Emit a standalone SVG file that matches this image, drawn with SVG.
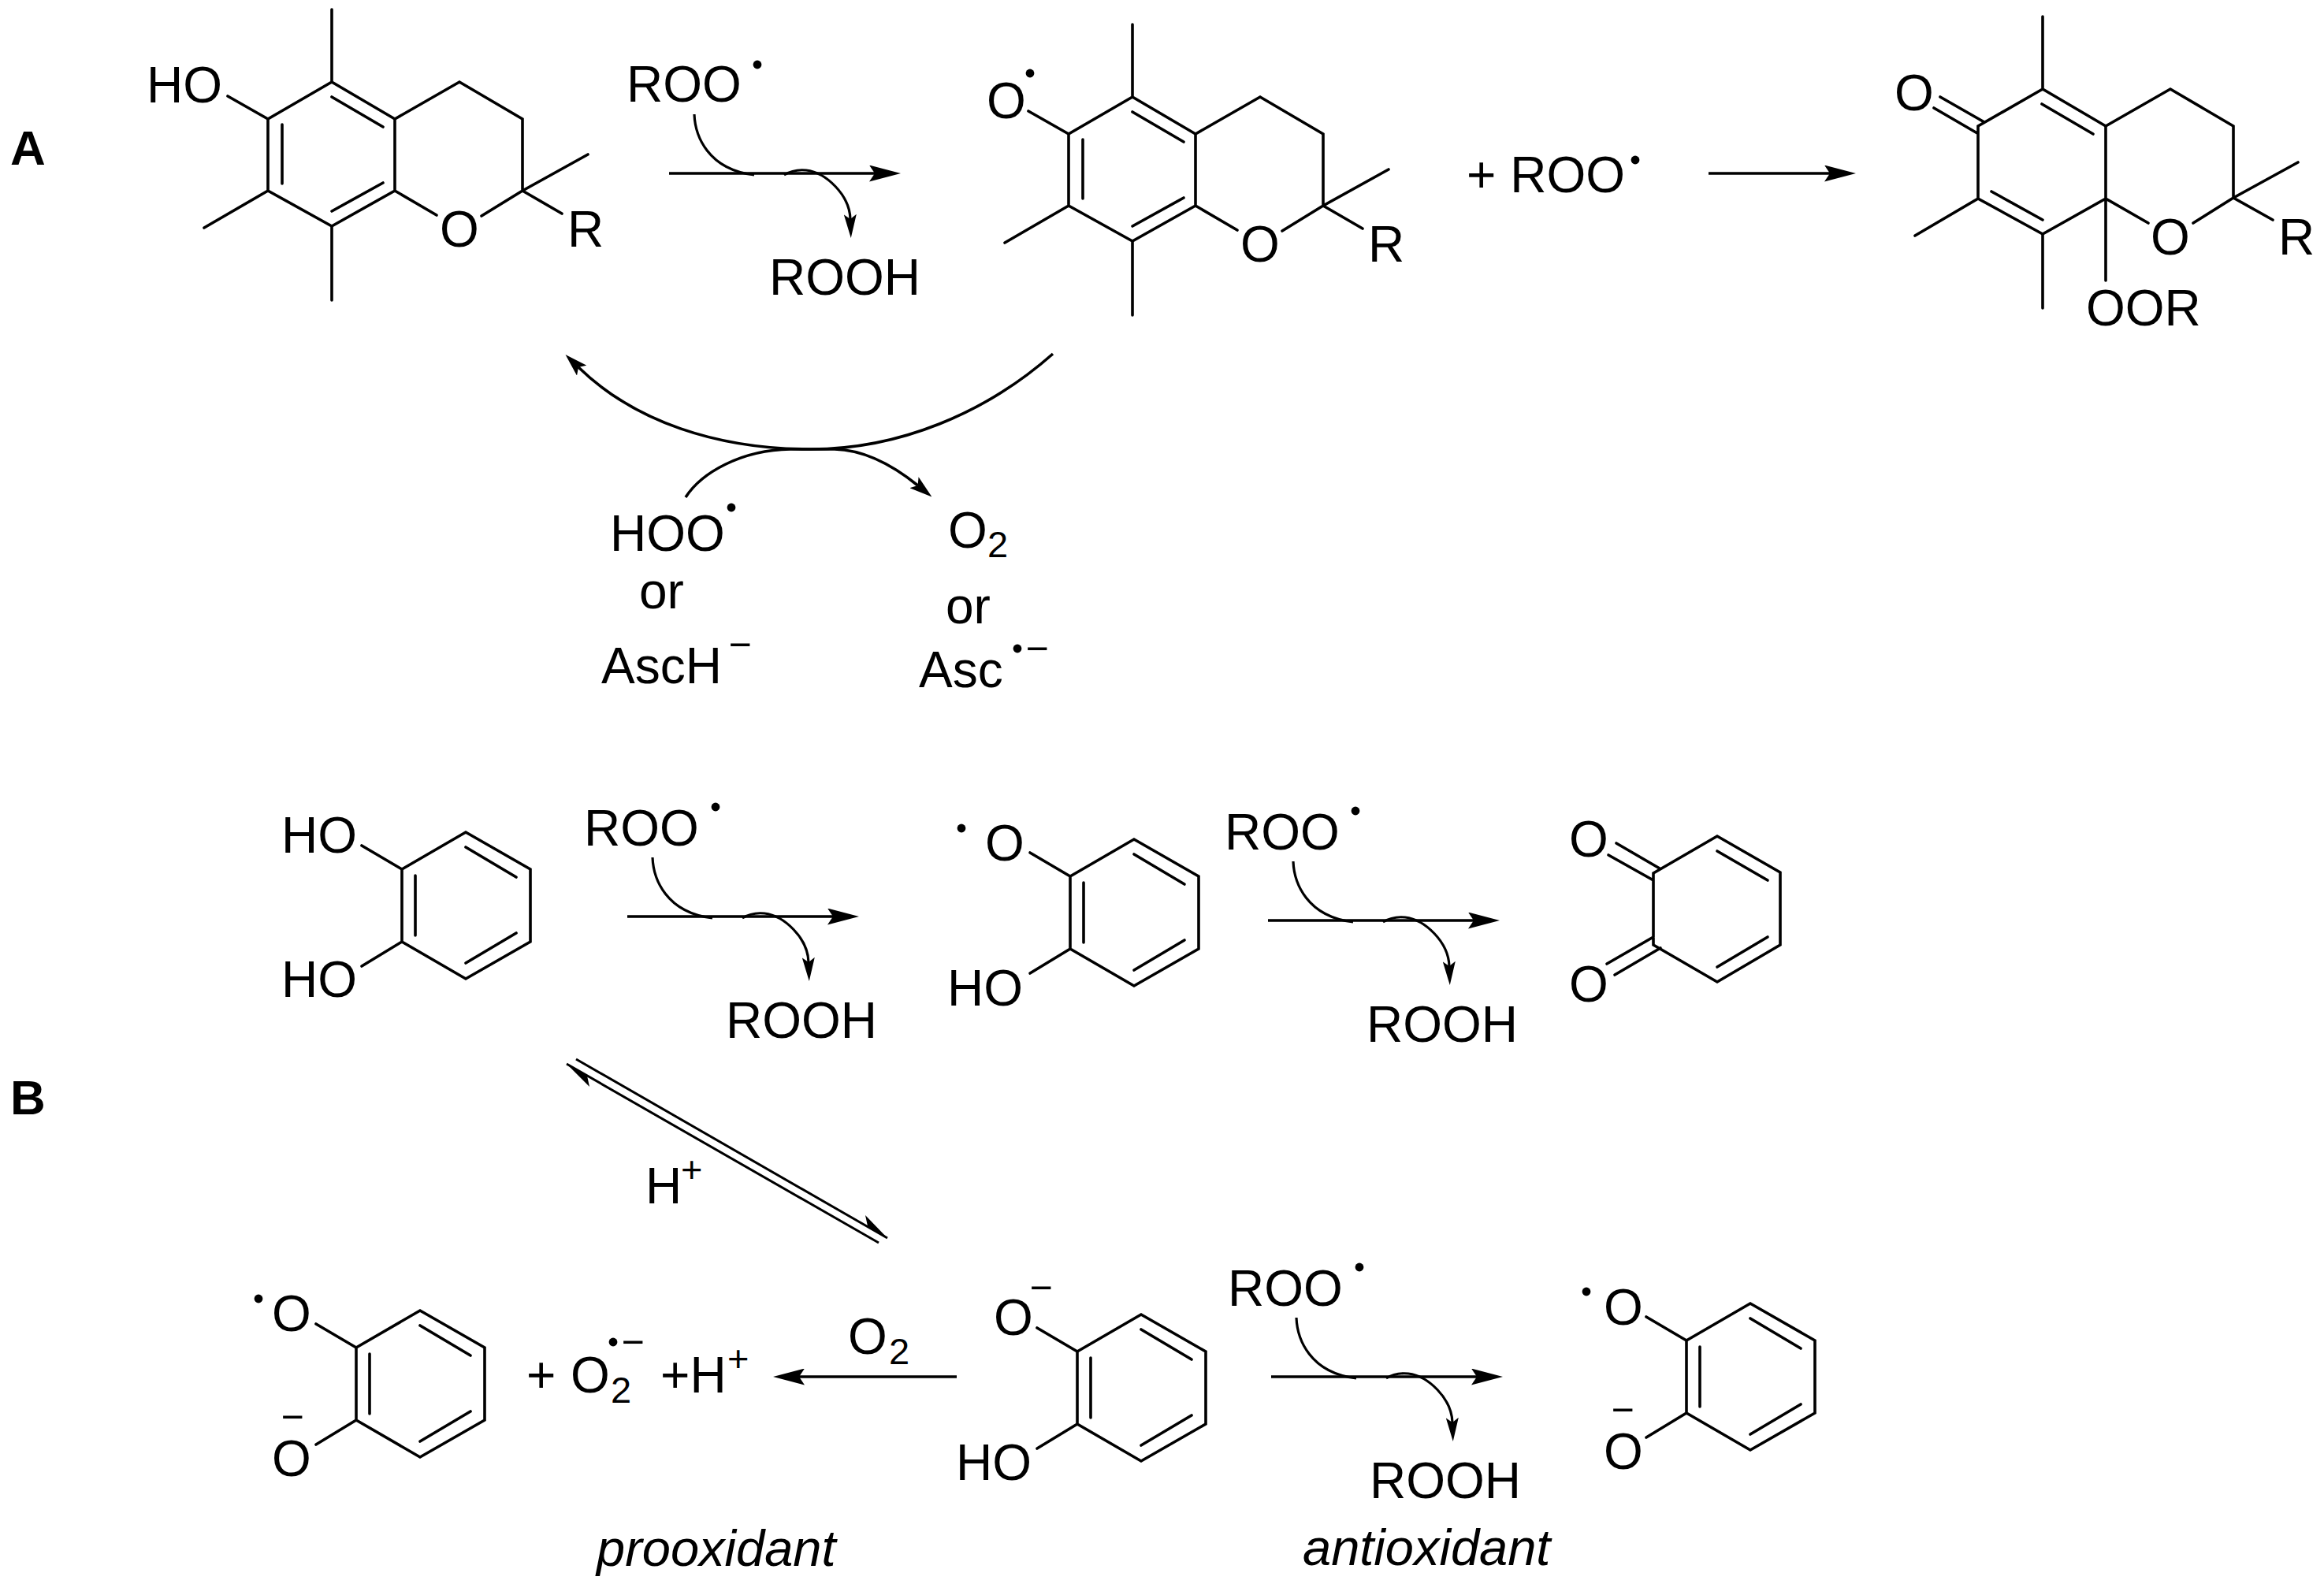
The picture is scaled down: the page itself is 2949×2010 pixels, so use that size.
<svg xmlns="http://www.w3.org/2000/svg" width="2949" height="2010" viewBox="0 0 2949 2010">
<style>
text{font-family:"Liberation Sans",Arial,sans-serif;font-size:64px;fill:#000}
.m{text-anchor:middle}
.s{font-size:47px}
.n{font-size:50px;text-anchor:middle}
.b{font-weight:bold;font-size:62px}
.i{font-style:italic;font-size:65px}
.bond{fill:none;stroke:#000;stroke-width:3.6;stroke-linecap:round;stroke-linejoin:miter}
.arr{fill:none;stroke:#000;stroke-width:3.4}
.curl{fill:none;stroke:#000;stroke-width:3.2}
.cyc{fill:none;stroke:#000;stroke-width:3.6}
.eq{fill:none;stroke:#000;stroke-width:3}
.dot{fill:#000}
.hd{fill:#000;stroke:none}
</style>
<defs>
<marker id="hL" markerUnits="userSpaceOnUse" markerWidth="40" markerHeight="21" refX="7" refY="10.5" orient="auto"><path class="hd" d="M0,0L40,10.5L0,21L7,10.5Z"/></marker>
<marker id="hS" markerUnits="userSpaceOnUse" markerWidth="30" markerHeight="16" refX="6" refY="8" orient="auto"><path class="hd" d="M0,0L30,8L0,16L6,8Z"/></marker>
<marker id="hM" markerUnits="userSpaceOnUse" markerWidth="29" markerHeight="18" refX="6" refY="9" orient="auto"><path class="hd" d="M0,0L29,9L0,18L6,9Z"/></marker>
<path id="chroman" class="bond" d="M421,12V104L501,151L583,104L663,151V242L746,196M663,242L713,271M663,242L611,274M501,151V242L554,273M501,242L421,287V381M421,287L340,242L259,289M340,242V151L421,104M340,151L289,122M421,123L486,161M358,158V233M486,232L421,268"/>
<path id="diol" class="bond" d="M510,1103L591,1056L673,1103V1195L591,1242L510,1195ZM527,1111V1187M591,1075L655,1113M655,1184L591,1222M459,1073L510,1103M459,1226L510,1195"/>
<g id="scavenge">
<path class="arr" marker-end="url(#hL)" d="M796,1163H1057"/>
<path class="curl" d="M828,1088C829,1115 845,1158 904,1165"/>
<path class="curl" marker-end="url(#hS)" d="M942,1165C950,1160 960,1158 970,1159C995,1162 1025,1190 1026,1221"/>
</g>
</defs>

<g id="label-A"><text class="b" x="13" y="209">A</text></g>
<g id="label-B"><text class="b" x="13" y="1414">B</text></g>

<g id="tocopherol">
<use href="#chroman"/>
<text x="186" y="130">HO</text>
<text class="m" x="583" y="313">O</text>
<text x="720" y="313">R</text>
</g>

<g id="tocopheroxyl">
<use href="#chroman" transform="translate(1016,19)"/>
<text class="m" x="1277" y="150">O</text>
<circle class="dot" cx="1307" cy="93" r="5.4"/>
<text class="m" x="1599" y="332">O</text>
<text x="1736" y="332">R</text>
</g>

<g id="peroxy-adduct">
<path class="bond" d="M2592,21V113L2672,160L2754,113L2834,160V251L2916,206M2834,251L2884,279M2834,251L2783,283M2672,160V356M2672,252L2726,283M2672,252L2592,297V391M2592,297L2510,252L2430,299M2510,252V160L2592,113M2591,132L2656,170M2527,243L2592,279M2518,155L2462,123M2509,169L2454,137"/>
<text class="m" x="2429" y="140">O</text>
<text class="m" x="2754" y="323">O</text>
<text x="2891" y="323">R</text>
<text x="2647" y="413">OOR</text>
</g>

<g id="catechol"><use href="#diol"/>
<text x="357" y="1082">HO</text>
<text x="357" y="1265">HO</text>
</g>

<g id="semiquinone"><use href="#diol" transform="translate(848,9)"/>
<text class="m" x="1275" y="1092">O</text>
<circle class="dot" cx="1220" cy="1051" r="5.4"/>
<text x="1202" y="1276">HO</text>
</g>

<g id="quinone">
<path class="bond" d="M2098,1108L2179,1061L2259,1107V1199L2179,1246L2098,1199ZM2179,1080L2243,1117M2243,1189L2179,1227M2051,1070L2106,1102M2041,1085L2098,1117M2098,1189L2039,1223M2107,1203L2049,1237"/>
<text class="m" x="2016" y="1087">O</text>
<text class="m" x="2016" y="1271">O</text>
</g>

<g id="radical-anion-left"><use href="#diol" transform="translate(-58,607)"/>
<text class="m" x="370" y="1689">O</text>
<circle class="dot" cx="328" cy="1648" r="5.4"/>
<text class="n" x="371" y="1815">−</text>
<text class="m" x="370" y="1873">O</text>
</g>

<g id="catecholate"><use href="#diol" transform="translate(857,612)"/>
<text class="m" x="1286" y="1694">O</text>
<text class="n" x="1321" y="1651">−</text>
<text x="1213" y="1878">HO</text>
</g>

<g id="radical-anion-right"><use href="#diol" transform="translate(1630,598)"/>
<text class="m" x="2060" y="1681">O</text>
<circle class="dot" cx="2013" cy="1639" r="5.4"/>
<text class="n" x="2059" y="1806">−</text>
<text class="m" x="2060" y="1864">O</text>
</g>

<g id="connectors">
<use href="#scavenge" transform="translate(53,-943)"/>
<use href="#scavenge"/>
<use href="#scavenge" transform="translate(813,5)"/>
<use href="#scavenge" transform="translate(817,584)"/>
<path class="arr" marker-end="url(#hL)" d="M2168,220H2322"/>
<path class="arr" marker-end="url(#hL)" d="M1214,1747H1014"/>
<path class="cyc" marker-end="url(#hM)" d="M1336,449C1250,525 1140,570 1029,570C910,570 805,535 734,466"/>
<path class="cyc" marker-end="url(#hM)" d="M870,631C890,600 940,571 1003,570H1059C1100,571 1135,592 1164.6,616"/>
<path class="eq" d="M731,1344L1126,1571M719,1350L1115,1577"/>
<path class="hd" d="M1126,1571L1098,1542L1101,1556ZM719,1350L748,1379L745,1365Z"/>
</g>

<g id="labels">
<text x="795" y="129">ROO</text><circle class="dot" cx="961" cy="82" r="5.4"/>
<text x="976" y="374">ROOH</text>
<text x="1861" y="244">+ ROO</text><circle class="dot" cx="2075" cy="203" r="5.4"/>
<text x="774" y="699">HOO</text><circle class="dot" cx="928" cy="644" r="5.4"/>
<text x="811" y="772">or</text>
<text x="763" y="867">AscH</text><text class="n" x="939" y="835">−</text>
<text x="1203" y="695">O<tspan class="s" x="1253" y="707">2</tspan></text>
<text x="1200" y="791">or</text>
<text x="1166" y="872">Asc</text><circle class="dot" cx="1291" cy="823" r="5.4"/><text class="n" x="1316" y="840">−</text>
<text x="741" y="1073">ROO</text><circle class="dot" cx="908" cy="1024" r="5.4"/>
<text x="921" y="1317">ROOH</text>
<text x="1554" y="1078">ROO</text><circle class="dot" cx="1720" cy="1029" r="5.4"/>
<text x="1734" y="1322">ROOH</text>
<text x="819" y="1527">H<tspan class="s" x="864" y="1500">+</tspan></text>
<text x="668" y="1767">+</text>
<text x="724" y="1767">O<tspan class="s" x="775" y="1780">2</tspan></text>
<circle class="dot" cx="778" cy="1703" r="5.4"/><text class="n" x="803" y="1720">−</text>
<text x="838" y="1767">+H<tspan class="s" x="923" y="1740">+</tspan></text>
<text x="1076" y="1718">O<tspan class="s" x="1128" y="1731">2</tspan></text>
<text class="i" x="757" y="1987">prooxidant</text>
<text x="1558" y="1657">ROO</text><circle class="dot" cx="1725" cy="1608" r="5.4"/>
<text x="1738" y="1901">ROOH</text>
<text class="i" x="1653" y="1986">antioxidant</text>
</g>
</svg>
